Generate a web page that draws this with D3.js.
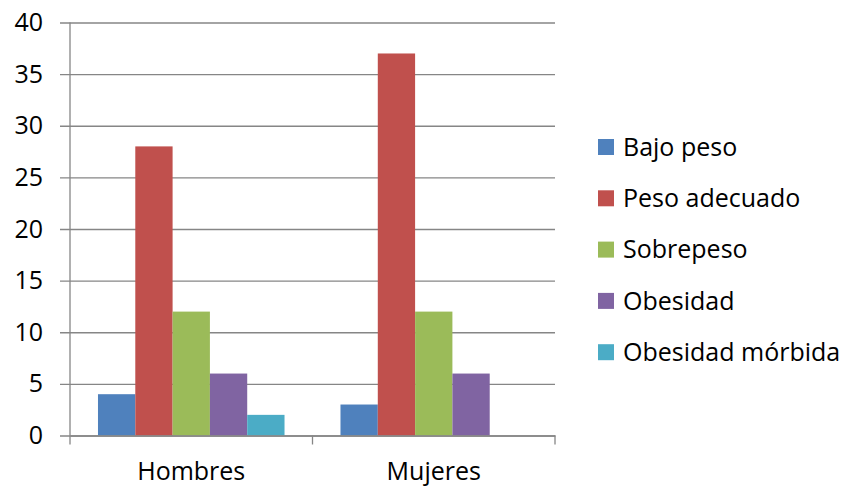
<!DOCTYPE html>
<html>
<head>
<meta charset="utf-8">
<script src="https://cdnjs.cloudflare.com/ajax/libs/d3/7.8.5/d3.min.js"></script>
<style>
  html, body { margin: 0; padding: 0; background: #fff; }
  svg { display: block; font-family: "Open Sans", "Noto Sans", sans-serif; }
</style>
</head>
<body>
<svg id="chart" width="845" height="487"></svg>
<script>
// Groups along the x axis
const categories = ["Hombres", "Mujeres"];
// Weight classes (one bar per class in each group)
const seriesNames = ["Bajo peso", "Peso adecuado", "Sobrepeso", "Obesidad", "Obesidad mórbida"];
const seriesColors = ["#4F81BD", "#C0504D", "#9BBB59", "#8064A2", "#4BACC6"];
// Counts per class, one array per group
const hombresValues = [4, 28, 12, 6, 2];
const mujeresValues = [3, 37, 12, 6, 0];
const groupValues = [hombresValues, mujeresValues];
// Value axis ticks
const yTicks = [0, 5, 10, 15, 20, 25, 30, 35, 40];

const svg = d3.select("#chart");
const plot = { left: 70, right: 555, top: 22.5, bottom: 435.5 };
const fontSize = 25;

const y = d3.scaleLinear().domain([0, 40]).range([plot.bottom, plot.top]);
const x0 = d3.scaleBand().domain(categories).range([plot.left, plot.right]);
// 150% gap between groups: 5 bars + 1.5 bar widths per band
const gapShare = 1.5 / 6.5 / 2;
const x1 = d3.scaleBand().domain(seriesNames)
  .range([x0.bandwidth() * gapShare, x0.bandwidth() * (1 - gapShare)]);
const color = d3.scaleOrdinal().domain(seriesNames).range(seriesColors);

const gridColor = "#868686";

// Horizontal gridlines with short tick stubs left of the axis
const yAxis = d3.axisLeft(y).tickValues(yTicks)
  .tickSize(-(plot.right - plot.left + 10)).tickFormat(d => d);
const gy = svg.append("g").attr("transform", `translate(${plot.left - 10},0)`).call(yAxis);
gy.select(".domain").remove();
gy.selectAll(".tick line").attr("stroke", gridColor).attr("stroke-width", 1.3);
gy.selectAll(".tick text")
  .attr("fill", "#000").attr("font-size", fontSize)
  .attr("font-family", "'Open Sans', sans-serif")
  .attr("x", -17);

// Vertical value axis line
svg.append("line")
  .attr("x1", plot.left).attr("x2", plot.left)
  .attr("y1", plot.top).attr("y2", plot.bottom)
  .attr("stroke", gridColor).attr("stroke-width", 1.3);

// Bars
const groups = svg.append("g").selectAll("g")
  .data(categories)
  .join("g")
  .attr("transform", d => `translate(${x0(d)},0)`);

groups.selectAll("rect")
  .data((d, i) => seriesNames.map((s, j) => ({ s, v: groupValues[i][j] })))
  .join("rect")
  .attr("x", d => x1(d.s))
  .attr("y", d => y(d.v))
  .attr("width", x1.bandwidth())
  .attr("height", d => y(0) - y(d.v))
  .attr("fill", d => color(d.s));

// Category axis with tick marks between groups
const xAxis = d3.axisBottom(x0).tickSize(0).tickPadding(27);
const gx = svg.append("g").attr("transform", `translate(0,${plot.bottom})`).call(xAxis);
gx.select(".domain").attr("stroke", gridColor).attr("stroke-width", 1.3);
gx.selectAll(".tick text")
  .attr("fill", "#000").attr("font-size", fontSize)
  .attr("font-family", "'Open Sans', sans-serif");
const boundaries = [plot.left, x0(categories[1]), plot.right];
gx.selectAll(".sep").data(boundaries).join("line")
  .attr("class", "sep")
  .attr("x1", d => d).attr("x2", d => d)
  .attr("y1", 0).attr("y2", 9)
  .attr("stroke", gridColor).attr("stroke-width", 1.3);

// Legend
const legend = svg.append("g").attr("transform", "translate(598,147)");
const items = legend.selectAll("g").data(seriesNames).join("g")
  .attr("transform", (d, i) => `translate(0,${i * 51.3})`);
items.append("rect")
  .attr("x", 0).attr("y", -8).attr("width", 16).attr("height", 16)
  .attr("fill", d => color(d));
items.append("text")
  .attr("x", 25).attr("y", 0).attr("dy", "0.35em")
  .attr("font-size", fontSize).attr("fill", "#000")
  .text(d => d);
</script>
</body>
</html>
